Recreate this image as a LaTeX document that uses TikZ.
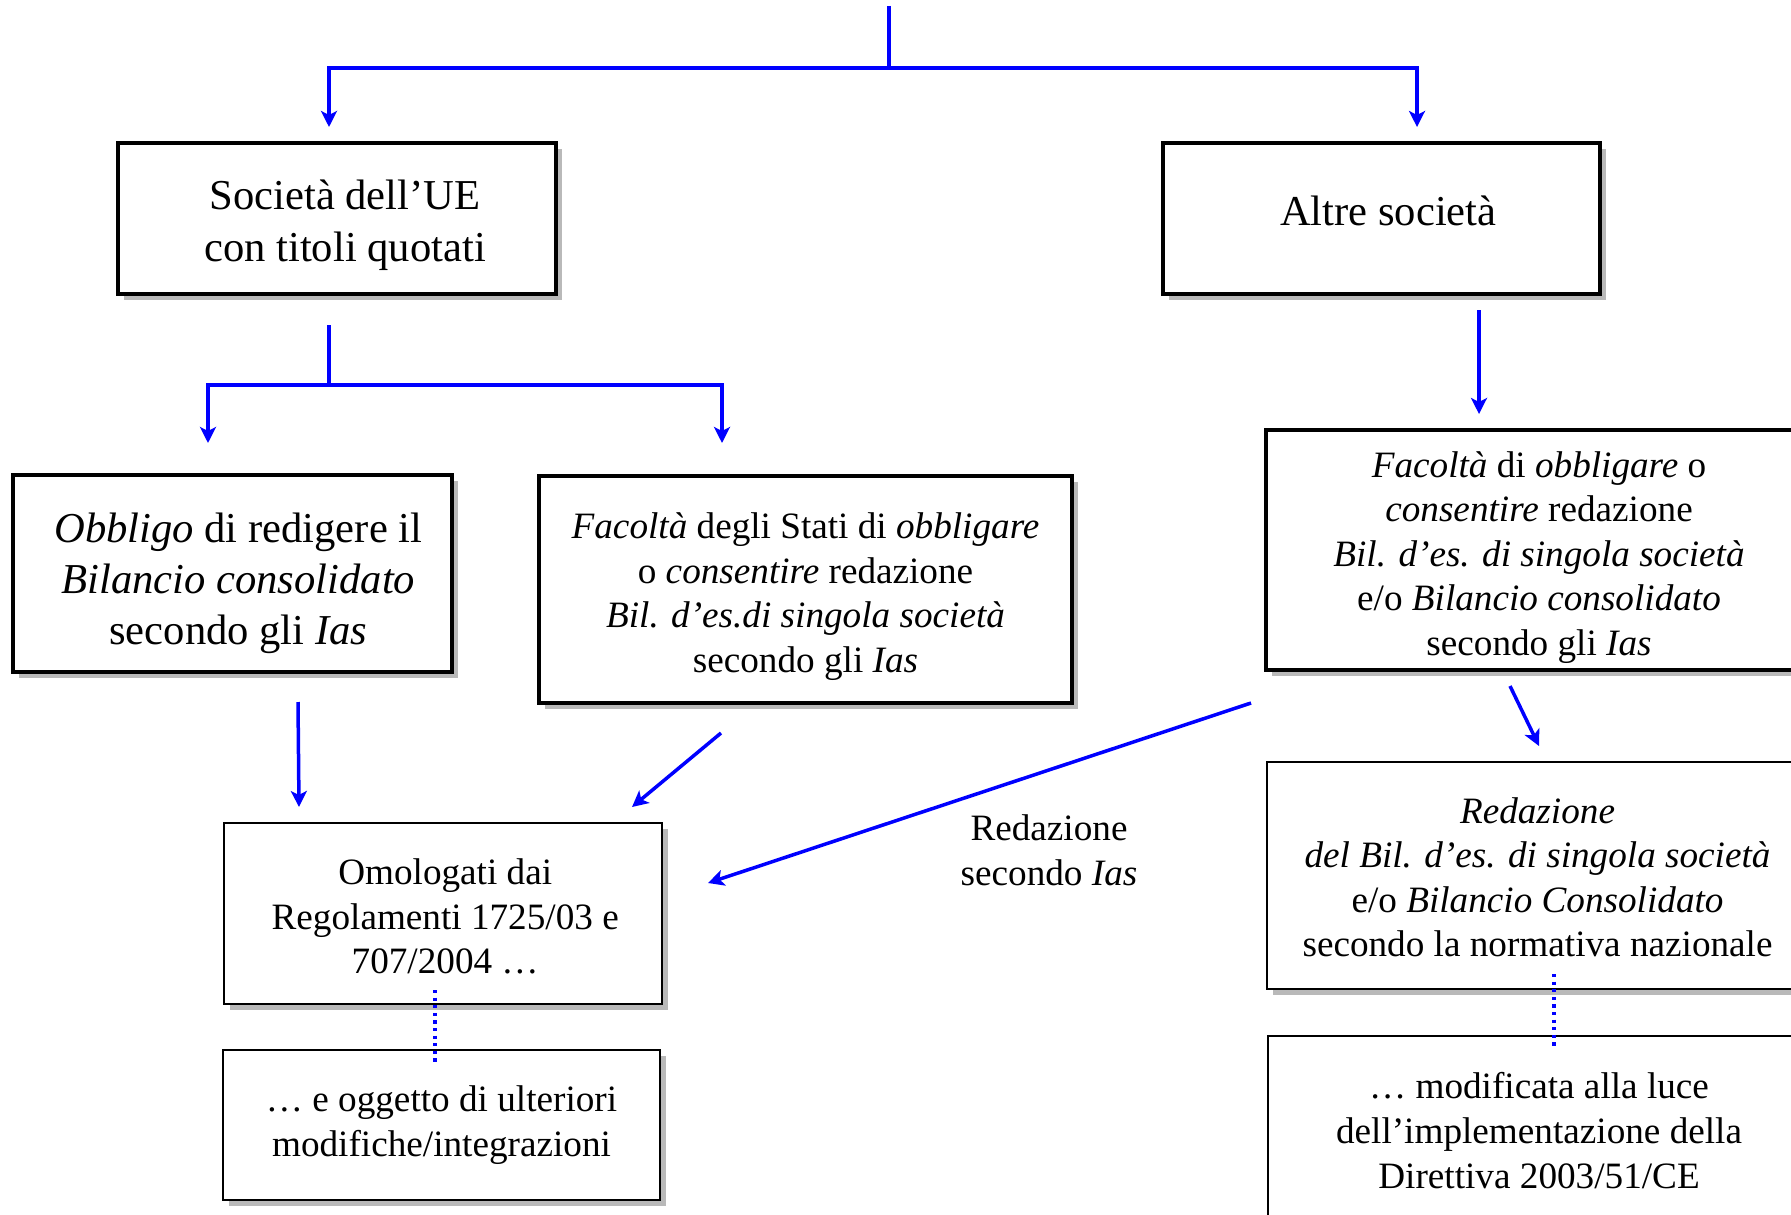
\documentclass[tikz,border=0pt]{standalone}
\usepackage{fontspec}
\setmainfont{Liberation Serif}
\usetikzlibrary{arrows.meta,shadows}
\definecolor{lineblue}{RGB}{0,0,255}
\newcommand{\movedtext}[3]{\raisebox{#2}[\height][\depth]{\hspace*{#1}\hspace*{#1}\begin{tabular}{@{}c@{}}#3\end{tabular}}}
\begin{document}
\begin{tikzpicture}[x=0.5pt,y=-0.5pt,
  boxbase/.style={draw, fill=white, align=center, inner sep=0pt,
    drop shadow={shadow xshift=3pt, shadow yshift=-3pt, fill=gray!55, opacity=1}},
  thickbox/.style={boxbase, line width=2pt},
  thinbox/.style={boxbase, line width=1.4pt},
  bigtxt/.style={font=\fontsize{21.3}{25.5}\selectfont},
  smalltxt/.style={font=\fontsize{18.6}{22.3}\selectfont},
  bline/.style={draw=lineblue, line width=1.75pt},
  conn/.style={bline, -{Stealth[length=8pt,width=8pt,inset=2pt]}},
  dotline/.style={draw=lineblue, line width=1.6pt, dash pattern=on 1.6pt off 2.2pt}
]
\useasboundingbox (0,0) rectangle (1791,1214);
\clip (0,0) rectangle (1791,1214);

% boxes
\node[thickbox, bigtxt, minimum width=219pt, minimum height=75.5pt] (A) at (337,218.5)
  {\movedtext{4pt}{-3.4pt}{Società dell’UE\\con titoli quotati}};
\node[thickbox, bigtxt, minimum width=218.5pt, minimum height=75.5pt] (B) at (1381.5,218.5)
  {\movedtext{3.4pt}{1.5pt}{Altre società}};
\node[thickbox, bigtxt, minimum width=219.5pt, minimum height=98.5pt] (C) at (232.5,573.5)
  {\movedtext{2.9pt}{-5.1pt}{\textit{Obbligo} di redigere il\\\textit{Bilancio consolidato}\\secondo gli \textit{Ias}}};
\node[thickbox, smalltxt, minimum width=266.5pt, minimum height=113.5pt] (D) at (805.5,589.5)
  {\movedtext{0pt}{-3.6pt}{\textit{Facoltà} degli Stati di \textit{obbligare}\\o \textit{consentire} redazione\\\textit{Bil. d’es.di singola società}\\secondo gli \textit{Ias}}};
\node[thickbox, smalltxt, minimum width=273pt, minimum height=120pt] (E) at (1539,550)
  {\movedtext{0pt}{-3.7pt}{\textit{Facoltà} di \textit{obbligare} o\\\textit{consentire} redazione\\\textit{Bil. d’es. di singola società}\\e/o \textit{Bilancio consolidato}\\secondo gli \textit{Ias}}};
\node[thinbox, smalltxt, minimum width=270.5pt, minimum height=113.5pt] (F) at (1537.5,875.5)
  {\movedtext{0pt}{-2.8pt}{\textit{Redazione}\\\textit{del Bil. d’es. di singola società}\\e/o \textit{Bilancio Consolidato}\\secondo la normativa nazionale}};
\node[thinbox, smalltxt, minimum width=271pt, minimum height=94.5pt] (G) at (1539,1130.5)
  {… modificata alla luce\\dell’implementazione della\\Direttiva 2003/51/CE};
\node[thinbox, smalltxt, minimum width=219pt, minimum height=90.5pt] (H) at (443,913.5)
  {\movedtext{1.1pt}{-3.4pt}{Omologati dai\\Regolamenti 1725/03 e\\707/2004 …}};
\node[thinbox, smalltxt, minimum width=218.5pt, minimum height=75pt] (I) at (441.5,1125)
  {\movedtext{0pt}{0pt}{… e oggetto di ulteriori\\modifiche/integrazioni}};

\node[smalltxt, align=center] (lab) at (1049,850) {Redazione\\secondo \textit{Ias}};

% connector end points
\coordinate (top) at (889,6);
\coordinate (topj) at (889,68);
\coordinate (tA) at (329,127);
\coordinate (tB) at (1417,127);
\coordinate (sA) at (329,325);
\coordinate (jA) at (329,385);
\coordinate (tC) at (208,443);
\coordinate (tD) at (722,443);
\coordinate (sB) at (1479,310);
\coordinate (tE) at (1479,414);
\coordinate (sC) at (298,702);
\coordinate (tHa) at (299,807);
\coordinate (sD) at (721,733);
\coordinate (tHb) at (632,807);
\coordinate (sE) at (1251,703);
\coordinate (tHc) at (708,883);
\coordinate (sE2) at (1510,686);
\coordinate (tF) at (1539,746);
\coordinate (dH1) at (435,990);
\coordinate (dH2) at (435,1065);
\coordinate (dF1) at (1554,974);
\coordinate (dF2) at (1554,1049);

% connectors
\draw[bline] (top) -- (topj);
\draw[conn] (topj) -| (tA);
\draw[conn] (topj) -| (tB);
\draw[bline] (sA) -- (jA);
\draw[conn] (jA) -| (tC);
\draw[conn] (jA) -| (tD);
\draw[conn] (sB) -- (tE);
\draw[conn] (sC) -- (tHa);
\draw[conn] (sD) -- (tHb);
\draw[conn] (sE) -- (tHc);
\draw[conn] (sE2) -- (tF);
\draw[dotline] (dH1) -- (dH2);
\draw[dotline] (dF1) -- (dF2);
\end{tikzpicture}
\end{document}
